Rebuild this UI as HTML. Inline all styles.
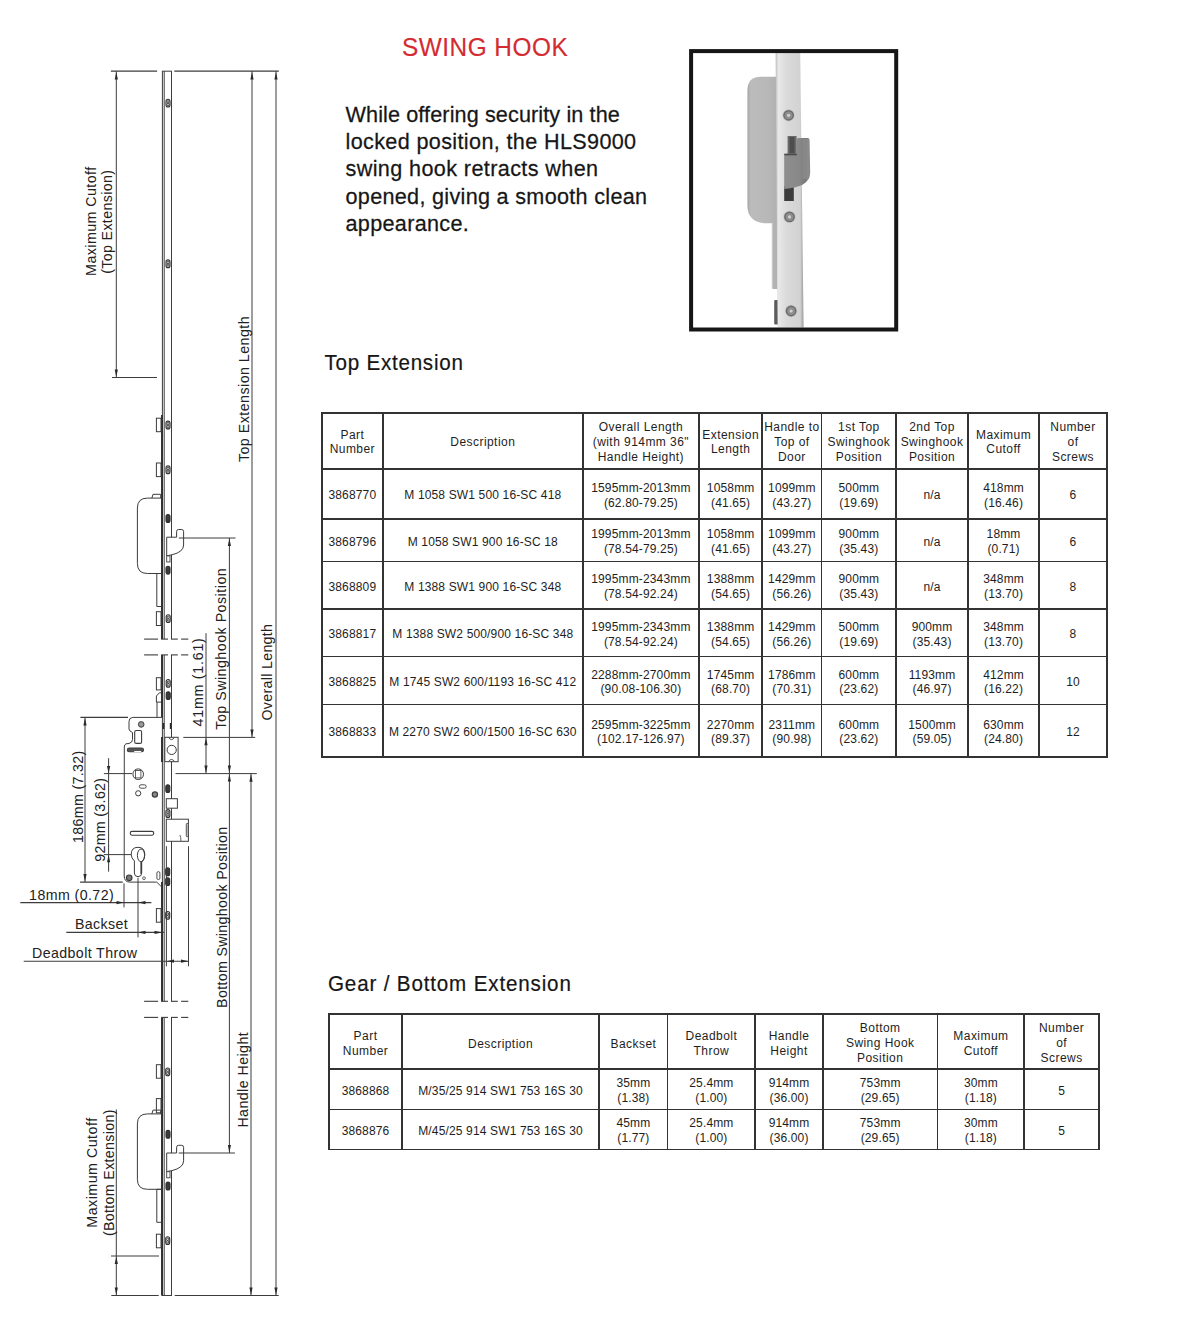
<!DOCTYPE html>
<html><head><meta charset="utf-8">
<style>
html,body{margin:0;padding:0;background:#fff;}
body{width:1182px;height:1322px;position:relative;overflow:hidden;font-family:"Liberation Sans", sans-serif;color:#1c1c1c;}
.abs{position:absolute;white-space:nowrap;}
.vl{position:absolute;width:1.8px;background:#333;}
.hl{position:absolute;height:1.8px;background:#333;}
.cell{position:absolute;display:flex;align-items:center;justify-content:center;text-align:center;font-size:12px;color:#1e1e1e;}
.cell span{display:block;white-space:nowrap;}
.th span{line-height:14.95px;letter-spacing:0.45px;position:relative;top:1.2px;}
.td span{line-height:14.7px;letter-spacing:0.15px;position:relative;top:1.7px;}
</style></head><body>
<div class="abs" id="title" style="left:402px;top:33px;transform:scaleY(1.076);transform-origin:0 23px;font-size:24.4px;line-height:30px;color:#d42b31;letter-spacing:0.49px;-webkit-text-stroke:0.15px #d42b31">SWING HOOK</div>
<div class="abs" id="para" style="left:345.5px;top:100.9px;font-size:21.6px;line-height:27.2px;color:#161616;-webkit-text-stroke:0.25px #161616"><div style="letter-spacing:0.12px;transform:scaleY(1.05);transform-origin:0 20.74px">While offering security in the</div><div style="letter-spacing:0.36px;transform:scaleY(1.05);transform-origin:0 20.74px">locked position, the HLS9000</div><div style="letter-spacing:0.39px;transform:scaleY(1.05);transform-origin:0 20.74px">swing hook retracts when</div><div style="letter-spacing:0.31px;transform:scaleY(1.05);transform-origin:0 20.74px">opened, giving a smooth clean</div><div style="letter-spacing:0.32px;transform:scaleY(1.05);transform-origin:0 20.74px">appearance.</div></div>
<div class="abs" id="h1" style="left:324.5px;top:350px;transform:scaleY(1.04);transform-origin:0 20.5px;font-size:20.6px;line-height:26px;color:#161616;letter-spacing:0.75px;-webkit-text-stroke:0.2px #161616">Top Extension</div>
<div class="abs" id="h2" style="left:328px;top:971px;transform:scaleY(1.04);transform-origin:0 20.5px;font-size:20.6px;line-height:26px;color:#161616;letter-spacing:0.84px;-webkit-text-stroke:0.2px #161616">Gear / Bottom Extension</div>
<svg style="position:absolute;left:0;top:0" width="1182" height="400" viewBox="0 0 1182 400">
<defs>
<linearGradient id="fp" x1="0" x2="1" y1="0" y2="0">
 <stop offset="0" stop-color="#bdbdbd"/><stop offset="0.1" stop-color="#e8e8e8"/><stop offset="0.4" stop-color="#dadada"/><stop offset="0.88" stop-color="#d2d2d2"/><stop offset="1" stop-color="#9a9a9a"/>
</linearGradient>
<linearGradient id="hs" x1="0" x2="1" y1="0" y2="0">
 <stop offset="0" stop-color="#a8a8a8"/><stop offset="0.12" stop-color="#bcbcbc"/><stop offset="0.7" stop-color="#b8b8b8"/><stop offset="1" stop-color="#b0b0b0"/>
</linearGradient>
<linearGradient id="hk" x1="0" x2="1" y1="0" y2="0">
 <stop offset="0" stop-color="#8e8e8e"/><stop offset="0.6" stop-color="#888"/><stop offset="0.8" stop-color="#7a7a7a"/><stop offset="1" stop-color="#8c8c8c"/>
</linearGradient>
<radialGradient id="sc" cx="0.5" cy="0.5" r="0.5">
 <stop offset="0" stop-color="#f2f2f2"/><stop offset="0.18" stop-color="#d0d0d0"/><stop offset="0.45" stop-color="#a8a8a8"/><stop offset="0.8" stop-color="#808080"/><stop offset="1" stop-color="#9a9a9a"/>
</radialGradient>
</defs>
<path d="M777,76.7 L760.4,76.7 Q747.4,76.7 747.4,91 L747.4,205.3 Q747.4,223.3 767.4,223.3 L777,223.3 Z" fill="url(#hs)"/>
<path d="M771.9,223 L777.5,223 L777.5,289 L773.5,289 Q771.9,289 771.9,287 Z" fill="#b2b2b2"/>
<rect x="771.9" y="223" width="1.2" height="65.4" fill="#c8c8c8"/>
<rect x="774.2" y="300" width="4.5" height="24.5" rx="1" fill="#5c5c5c"/>
<path d="M775.6,53 L800.2,53 L803.6,327.5 L777.6,327.5 Z" fill="url(#fp)"/>
<rect x="787.6" y="136" width="9" height="18" fill="#6a6a6a"/>
<rect x="789.5" y="137" width="5" height="16" fill="#4e4e4e"/>
<rect x="784.2" y="186" width="9.6" height="15" fill="#3c3c3c"/>
<path d="M796.5,139.5 Q796.7,138 798.5,138 L808,138 Q809.4,138 809.5,140 L810.2,172 Q810.4,180 803,184.5 Q797,187.5 784.2,189 L784.2,155.8 Q784.2,153.7 786.5,153.7 L796.5,153.7 Z" fill="url(#hk)"/>
<rect x="784.2" y="153.7" width="12.5" height="1.6" fill="#4a4a4a"/>
<rect x="802.6" y="139" width="6.6" height="40" fill="#8f8f8f" opacity="0.6"/>
<circle cx="788.6" cy="115.3" r="6.2" fill="#c8c8c8"/>
<circle cx="788.6" cy="115.3" r="5.4" fill="#6c6c6c"/>
<circle cx="788.6" cy="115.3" r="3.9" fill="#8e8e8e"/>
<circle cx="788.6" cy="115.3" r="1.6" fill="#d0d0d0"/>
<circle cx="789.5" cy="216.9" r="6.2" fill="#c8c8c8"/>
<circle cx="789.5" cy="216.9" r="5.4" fill="#6c6c6c"/>
<circle cx="789.5" cy="216.9" r="3.9" fill="#8e8e8e"/>
<circle cx="789.5" cy="216.9" r="1.6" fill="#d0d0d0"/>
<circle cx="791.1" cy="311" r="6.2" fill="#c8c8c8"/>
<circle cx="791.1" cy="311" r="5.4" fill="#6c6c6c"/>
<circle cx="791.1" cy="311" r="3.9" fill="#8e8e8e"/>
<circle cx="791.1" cy="311" r="1.6" fill="#d0d0d0"/>
<rect x="691.1" y="51.1" width="205.1" height="278.4" fill="none" stroke="#161616" stroke-width="4"/>
</svg>
<div class="vl" style="left:320.90px;top:412.00px;height:346.00px"></div>
<div class="vl" style="left:382.00px;top:412.00px;height:346.00px"></div>
<div class="vl" style="left:581.80px;top:412.00px;height:346.00px"></div>
<div class="vl" style="left:698.20px;top:412.00px;height:346.00px"></div>
<div class="vl" style="left:761.30px;top:412.00px;height:346.00px"></div>
<div class="vl" style="left:820.70px;top:412.00px;height:346.00px"></div>
<div class="vl" style="left:895.30px;top:412.00px;height:346.00px"></div>
<div class="vl" style="left:967.00px;top:412.00px;height:346.00px"></div>
<div class="vl" style="left:1038.30px;top:412.00px;height:346.00px"></div>
<div class="vl" style="left:1105.90px;top:412.00px;height:346.00px"></div>
<div class="hl" style="left:320.90px;top:412.00px;width:786.80px"></div>
<div class="hl" style="left:320.90px;top:467.90px;width:786.80px"></div>
<div class="hl" style="left:320.90px;top:518.30px;width:786.80px"></div>
<div class="hl" style="left:320.90px;top:560.50px;width:786.80px"></div>
<div class="hl" style="left:320.90px;top:608.20px;width:786.80px"></div>
<div class="hl" style="left:320.90px;top:655.70px;width:786.80px"></div>
<div class="hl" style="left:320.90px;top:703.60px;width:786.80px"></div>
<div class="hl" style="left:320.90px;top:756.20px;width:786.80px"></div>
<div class="cell th" style="left:321.80px;top:412.90px;width:61.10px;height:55.90px"><span style="line-height:14.2px">Part<br>Number</span></div>
<div class="cell th" style="left:382.90px;top:412.90px;width:199.80px;height:55.90px"><span style="line-height:14.2px">Description</span></div>
<div class="cell th" style="left:582.70px;top:412.90px;width:116.40px;height:55.90px"><span style="line-height:14.95px">Overall Length<br>(with 914mm 36"<br>Handle Height)</span></div>
<div class="cell th" style="left:699.10px;top:412.90px;width:63.10px;height:55.90px"><span style="line-height:14.2px">Extension<br>Length</span></div>
<div class="cell th" style="left:762.20px;top:412.90px;width:59.40px;height:55.90px"><span style="line-height:14.95px">Handle to<br>Top of<br>Door</span></div>
<div class="cell th" style="left:821.60px;top:412.90px;width:74.60px;height:55.90px"><span style="line-height:14.95px">1st Top<br>Swinghook<br>Position</span></div>
<div class="cell th" style="left:896.20px;top:412.90px;width:71.70px;height:55.90px"><span style="line-height:14.95px">2nd Top<br>Swinghook<br>Position</span></div>
<div class="cell th" style="left:967.90px;top:412.90px;width:71.30px;height:55.90px"><span style="line-height:14.2px">Maximum<br>Cutoff</span></div>
<div class="cell th" style="left:1039.20px;top:412.90px;width:67.60px;height:55.90px"><span style="line-height:14.95px">Number<br>of<br>Screws</span></div>
<div class="cell td" style="left:321.80px;top:468.80px;width:61.10px;height:50.40px"><span style="line-height:14.7px">3868770</span></div>
<div class="cell td" style="left:382.90px;top:468.80px;width:199.80px;height:50.40px"><span style="line-height:14.7px">M 1058 SW1 500 16-SC 418</span></div>
<div class="cell td" style="left:582.70px;top:468.80px;width:116.40px;height:50.40px"><span style="line-height:14.7px">1595mm-2013mm<br>(62.80-79.25)</span></div>
<div class="cell td" style="left:699.10px;top:468.80px;width:63.10px;height:50.40px"><span style="line-height:14.7px">1058mm<br>(41.65)</span></div>
<div class="cell td" style="left:762.20px;top:468.80px;width:59.40px;height:50.40px"><span style="line-height:14.7px">1099mm<br>(43.27)</span></div>
<div class="cell td" style="left:821.60px;top:468.80px;width:74.60px;height:50.40px"><span style="line-height:14.7px">500mm<br>(19.69)</span></div>
<div class="cell td" style="left:896.20px;top:468.80px;width:71.70px;height:50.40px"><span style="line-height:14.7px">n/a</span></div>
<div class="cell td" style="left:967.90px;top:468.80px;width:71.30px;height:50.40px"><span style="line-height:14.7px">418mm<br>(16.46)</span></div>
<div class="cell td" style="left:1039.20px;top:468.80px;width:67.60px;height:50.40px"><span style="line-height:14.7px">6</span></div>
<div class="cell td" style="left:321.80px;top:519.20px;width:61.10px;height:42.20px"><span style="line-height:14.7px">3868796</span></div>
<div class="cell td" style="left:382.90px;top:519.20px;width:199.80px;height:42.20px"><span style="line-height:14.7px">M 1058 SW1 900 16-SC 18</span></div>
<div class="cell td" style="left:582.70px;top:519.20px;width:116.40px;height:42.20px"><span style="line-height:14.7px">1995mm-2013mm<br>(78.54-79.25)</span></div>
<div class="cell td" style="left:699.10px;top:519.20px;width:63.10px;height:42.20px"><span style="line-height:14.7px">1058mm<br>(41.65)</span></div>
<div class="cell td" style="left:762.20px;top:519.20px;width:59.40px;height:42.20px"><span style="line-height:14.7px">1099mm<br>(43.27)</span></div>
<div class="cell td" style="left:821.60px;top:519.20px;width:74.60px;height:42.20px"><span style="line-height:14.7px">900mm<br>(35.43)</span></div>
<div class="cell td" style="left:896.20px;top:519.20px;width:71.70px;height:42.20px"><span style="line-height:14.7px">n/a</span></div>
<div class="cell td" style="left:967.90px;top:519.20px;width:71.30px;height:42.20px"><span style="line-height:14.7px">18mm<br>(0.71)</span></div>
<div class="cell td" style="left:1039.20px;top:519.20px;width:67.60px;height:42.20px"><span style="line-height:14.7px">6</span></div>
<div class="cell td" style="left:321.80px;top:561.40px;width:61.10px;height:47.70px"><span style="line-height:14.7px">3868809</span></div>
<div class="cell td" style="left:382.90px;top:561.40px;width:199.80px;height:47.70px"><span style="line-height:14.7px">M 1388 SW1 900 16-SC 348</span></div>
<div class="cell td" style="left:582.70px;top:561.40px;width:116.40px;height:47.70px"><span style="line-height:14.7px">1995mm-2343mm<br>(78.54-92.24)</span></div>
<div class="cell td" style="left:699.10px;top:561.40px;width:63.10px;height:47.70px"><span style="line-height:14.7px">1388mm<br>(54.65)</span></div>
<div class="cell td" style="left:762.20px;top:561.40px;width:59.40px;height:47.70px"><span style="line-height:14.7px">1429mm<br>(56.26)</span></div>
<div class="cell td" style="left:821.60px;top:561.40px;width:74.60px;height:47.70px"><span style="line-height:14.7px">900mm<br>(35.43)</span></div>
<div class="cell td" style="left:896.20px;top:561.40px;width:71.70px;height:47.70px"><span style="line-height:14.7px">n/a</span></div>
<div class="cell td" style="left:967.90px;top:561.40px;width:71.30px;height:47.70px"><span style="line-height:14.7px">348mm<br>(13.70)</span></div>
<div class="cell td" style="left:1039.20px;top:561.40px;width:67.60px;height:47.70px"><span style="line-height:14.7px">8</span></div>
<div class="cell td" style="left:321.80px;top:609.10px;width:61.10px;height:47.50px"><span style="line-height:14.7px">3868817</span></div>
<div class="cell td" style="left:382.90px;top:609.10px;width:199.80px;height:47.50px"><span style="line-height:14.7px">M 1388 SW2 500/900 16-SC 348</span></div>
<div class="cell td" style="left:582.70px;top:609.10px;width:116.40px;height:47.50px"><span style="line-height:14.7px">1995mm-2343mm<br>(78.54-92.24)</span></div>
<div class="cell td" style="left:699.10px;top:609.10px;width:63.10px;height:47.50px"><span style="line-height:14.7px">1388mm<br>(54.65)</span></div>
<div class="cell td" style="left:762.20px;top:609.10px;width:59.40px;height:47.50px"><span style="line-height:14.7px">1429mm<br>(56.26)</span></div>
<div class="cell td" style="left:821.60px;top:609.10px;width:74.60px;height:47.50px"><span style="line-height:14.7px">500mm<br>(19.69)</span></div>
<div class="cell td" style="left:896.20px;top:609.10px;width:71.70px;height:47.50px"><span style="line-height:14.7px">900mm<br>(35.43)</span></div>
<div class="cell td" style="left:967.90px;top:609.10px;width:71.30px;height:47.50px"><span style="line-height:14.7px">348mm<br>(13.70)</span></div>
<div class="cell td" style="left:1039.20px;top:609.10px;width:67.60px;height:47.50px"><span style="line-height:14.7px">8</span></div>
<div class="cell td" style="left:321.80px;top:656.60px;width:61.10px;height:47.90px"><span style="line-height:14.7px">3868825</span></div>
<div class="cell td" style="left:382.90px;top:656.60px;width:199.80px;height:47.90px"><span style="line-height:14.7px">M 1745 SW2 600/1193 16-SC 412</span></div>
<div class="cell td" style="left:582.70px;top:656.60px;width:116.40px;height:47.90px"><span style="line-height:14.7px">2288mm-2700mm<br>(90.08-106.30)</span></div>
<div class="cell td" style="left:699.10px;top:656.60px;width:63.10px;height:47.90px"><span style="line-height:14.7px">1745mm<br>(68.70)</span></div>
<div class="cell td" style="left:762.20px;top:656.60px;width:59.40px;height:47.90px"><span style="line-height:14.7px">1786mm<br>(70.31)</span></div>
<div class="cell td" style="left:821.60px;top:656.60px;width:74.60px;height:47.90px"><span style="line-height:14.7px">600mm<br>(23.62)</span></div>
<div class="cell td" style="left:896.20px;top:656.60px;width:71.70px;height:47.90px"><span style="line-height:14.7px">1193mm<br>(46.97)</span></div>
<div class="cell td" style="left:967.90px;top:656.60px;width:71.30px;height:47.90px"><span style="line-height:14.7px">412mm<br>(16.22)</span></div>
<div class="cell td" style="left:1039.20px;top:656.60px;width:67.60px;height:47.90px"><span style="line-height:14.7px">10</span></div>
<div class="cell td" style="left:321.80px;top:704.50px;width:61.10px;height:52.60px"><span style="line-height:14.7px">3868833</span></div>
<div class="cell td" style="left:382.90px;top:704.50px;width:199.80px;height:52.60px"><span style="line-height:14.7px">M 2270 SW2 600/1500 16-SC 630</span></div>
<div class="cell td" style="left:582.70px;top:704.50px;width:116.40px;height:52.60px"><span style="line-height:14.7px">2595mm-3225mm<br>(102.17-126.97)</span></div>
<div class="cell td" style="left:699.10px;top:704.50px;width:63.10px;height:52.60px"><span style="line-height:14.7px">2270mm<br>(89.37)</span></div>
<div class="cell td" style="left:762.20px;top:704.50px;width:59.40px;height:52.60px"><span style="line-height:14.7px">2311mm<br>(90.98)</span></div>
<div class="cell td" style="left:821.60px;top:704.50px;width:74.60px;height:52.60px"><span style="line-height:14.7px">600mm<br>(23.62)</span></div>
<div class="cell td" style="left:896.20px;top:704.50px;width:71.70px;height:52.60px"><span style="line-height:14.7px">1500mm<br>(59.05)</span></div>
<div class="cell td" style="left:967.90px;top:704.50px;width:71.30px;height:52.60px"><span style="line-height:14.7px">630mm<br>(24.80)</span></div>
<div class="cell td" style="left:1039.20px;top:704.50px;width:67.60px;height:52.60px"><span style="line-height:14.7px">12</span></div>
<div class="vl" style="left:328.30px;top:1013.20px;height:137.20px"></div>
<div class="vl" style="left:401.00px;top:1013.20px;height:137.20px"></div>
<div class="vl" style="left:598.30px;top:1013.20px;height:137.20px"></div>
<div class="vl" style="left:666.70px;top:1013.20px;height:137.20px"></div>
<div class="vl" style="left:754.30px;top:1013.20px;height:137.20px"></div>
<div class="vl" style="left:822.00px;top:1013.20px;height:137.20px"></div>
<div class="vl" style="left:936.60px;top:1013.20px;height:137.20px"></div>
<div class="vl" style="left:1023.40px;top:1013.20px;height:137.20px"></div>
<div class="vl" style="left:1098.00px;top:1013.20px;height:137.20px"></div>
<div class="hl" style="left:328.30px;top:1013.20px;width:771.50px"></div>
<div class="hl" style="left:328.30px;top:1068.40px;width:771.50px"></div>
<div class="hl" style="left:328.30px;top:1108.70px;width:771.50px"></div>
<div class="hl" style="left:328.30px;top:1148.60px;width:771.50px"></div>
<div class="cell th" style="left:329.20px;top:1014.10px;width:72.70px;height:55.20px"><span style="line-height:14.5px;margin-top:2.0px">Part<br>Number</span></div>
<div class="cell th" style="left:401.90px;top:1014.10px;width:197.30px;height:55.20px"><span style="line-height:14.5px;margin-top:2.0px">Description</span></div>
<div class="cell th" style="left:599.20px;top:1014.10px;width:68.40px;height:55.20px"><span style="line-height:14.5px;margin-top:2.0px">Backset</span></div>
<div class="cell th" style="left:667.60px;top:1014.10px;width:87.60px;height:55.20px"><span style="line-height:14.5px;margin-top:2.0px">Deadbolt<br>Throw</span></div>
<div class="cell th" style="left:755.20px;top:1014.10px;width:67.70px;height:55.20px"><span style="line-height:14.5px;margin-top:2.0px">Handle<br>Height</span></div>
<div class="cell th" style="left:822.90px;top:1014.10px;width:114.60px;height:55.20px"><span style="line-height:15.2px;margin-top:2.0px">Bottom<br>Swing Hook<br>Position</span></div>
<div class="cell th" style="left:937.50px;top:1014.10px;width:86.80px;height:55.20px"><span style="line-height:14.5px;margin-top:2.0px">Maximum<br>Cutoff</span></div>
<div class="cell th" style="left:1024.30px;top:1014.10px;width:74.60px;height:55.20px"><span style="line-height:15.2px;margin-top:2.0px">Number<br>of<br>Screws</span></div>
<div class="cell td" style="left:329.20px;top:1069.30px;width:72.70px;height:40.30px"><span style="line-height:14.9px">3868868</span></div>
<div class="cell td" style="left:401.90px;top:1069.30px;width:197.30px;height:40.30px"><span style="line-height:14.9px">M/35/25 914 SW1 753 16S 30</span></div>
<div class="cell td" style="left:599.20px;top:1069.30px;width:68.40px;height:40.30px"><span style="line-height:14.9px">35mm<br>(1.38)</span></div>
<div class="cell td" style="left:667.60px;top:1069.30px;width:87.60px;height:40.30px"><span style="line-height:14.9px">25.4mm<br>(1.00)</span></div>
<div class="cell td" style="left:755.20px;top:1069.30px;width:67.70px;height:40.30px"><span style="line-height:14.9px">914mm<br>(36.00)</span></div>
<div class="cell td" style="left:822.90px;top:1069.30px;width:114.60px;height:40.30px"><span style="line-height:14.9px">753mm<br>(29.65)</span></div>
<div class="cell td" style="left:937.50px;top:1069.30px;width:86.80px;height:40.30px"><span style="line-height:14.9px">30mm<br>(1.18)</span></div>
<div class="cell td" style="left:1024.30px;top:1069.30px;width:74.60px;height:40.30px"><span style="line-height:14.9px">5</span></div>
<div class="cell td" style="left:329.20px;top:1109.60px;width:72.70px;height:39.90px"><span style="line-height:14.9px">3868876</span></div>
<div class="cell td" style="left:401.90px;top:1109.60px;width:197.30px;height:39.90px"><span style="line-height:14.9px">M/45/25 914 SW1 753 16S 30</span></div>
<div class="cell td" style="left:599.20px;top:1109.60px;width:68.40px;height:39.90px"><span style="line-height:14.9px">45mm<br>(1.77)</span></div>
<div class="cell td" style="left:667.60px;top:1109.60px;width:87.60px;height:39.90px"><span style="line-height:14.9px">25.4mm<br>(1.00)</span></div>
<div class="cell td" style="left:755.20px;top:1109.60px;width:67.70px;height:39.90px"><span style="line-height:14.9px">914mm<br>(36.00)</span></div>
<div class="cell td" style="left:822.90px;top:1109.60px;width:114.60px;height:39.90px"><span style="line-height:14.9px">753mm<br>(29.65)</span></div>
<div class="cell td" style="left:937.50px;top:1109.60px;width:86.80px;height:39.90px"><span style="line-height:14.9px">30mm<br>(1.18)</span></div>
<div class="cell td" style="left:1024.30px;top:1109.60px;width:74.60px;height:39.90px"><span style="line-height:14.9px">5</span></div>
<svg style="position:absolute;left:0;top:0;font-family:'Liberation Sans',sans-serif" width="300" height="1322" viewBox="0 0 300 1322"><line x1="162.4" y1="71.2" x2="162.4" y2="639.1" stroke="#3c3c3c" stroke-width="1.0"/>
<line x1="164.2" y1="71.2" x2="164.2" y2="639.1" stroke="#3c3c3c" stroke-width="1.0"/>
<line x1="171.5" y1="71.2" x2="171.5" y2="639.1" stroke="#3c3c3c" stroke-width="1.0"/>
<line x1="161.9" y1="71.2" x2="172.0" y2="71.2" stroke="#3c3c3c" stroke-width="1.0"/>
<line x1="162.4" y1="654.9" x2="162.4" y2="1001.3" stroke="#3c3c3c" stroke-width="1.0"/>
<line x1="164.2" y1="654.9" x2="164.2" y2="1001.3" stroke="#3c3c3c" stroke-width="1.0"/>
<line x1="171.5" y1="654.9" x2="171.5" y2="1001.3" stroke="#3c3c3c" stroke-width="1.0"/>
<line x1="162.4" y1="1017.4" x2="162.4" y2="1295.5" stroke="#3c3c3c" stroke-width="1.0"/>
<line x1="164.2" y1="1017.4" x2="164.2" y2="1295.5" stroke="#3c3c3c" stroke-width="1.0"/>
<line x1="171.5" y1="1017.4" x2="171.5" y2="1295.5" stroke="#3c3c3c" stroke-width="1.0"/>
<line x1="161.9" y1="1295.5" x2="172.0" y2="1295.5" stroke="#3c3c3c" stroke-width="1.0"/>
<line x1="161.9" y1="415" x2="161.9" y2="639.1" stroke="#222" stroke-width="1.6"/>
<line x1="161.9" y1="654.9" x2="161.9" y2="717.4" stroke="#222" stroke-width="1.6"/>
<line x1="161.9" y1="737" x2="161.9" y2="762" stroke="#222" stroke-width="1.6"/>
<line x1="161.9" y1="882" x2="161.9" y2="1001.3" stroke="#222" stroke-width="1.6"/>
<line x1="161.9" y1="1017.4" x2="161.9" y2="1295.5" stroke="#222" stroke-width="1.6"/>
<line x1="144.1" y1="639.1" x2="158.1" y2="639.1" stroke="#3c3c3c" stroke-width="1.1"/>
<line x1="161.1" y1="639.1" x2="168" y2="639.1" stroke="#3c3c3c" stroke-width="1.1"/>
<line x1="171" y1="639.1" x2="177.8" y2="639.1" stroke="#3c3c3c" stroke-width="1.1"/>
<line x1="181.1" y1="639.1" x2="188.3" y2="639.1" stroke="#3c3c3c" stroke-width="1.1"/>
<line x1="144.1" y1="654.9" x2="158.1" y2="654.9" stroke="#3c3c3c" stroke-width="1.1"/>
<line x1="161.1" y1="654.9" x2="168" y2="654.9" stroke="#3c3c3c" stroke-width="1.1"/>
<line x1="171" y1="654.9" x2="177.8" y2="654.9" stroke="#3c3c3c" stroke-width="1.1"/>
<line x1="181.1" y1="654.9" x2="188.3" y2="654.9" stroke="#3c3c3c" stroke-width="1.1"/>
<line x1="144.1" y1="1001.3" x2="158.1" y2="1001.3" stroke="#3c3c3c" stroke-width="1.1"/>
<line x1="161.1" y1="1001.3" x2="168" y2="1001.3" stroke="#3c3c3c" stroke-width="1.1"/>
<line x1="171" y1="1001.3" x2="177.8" y2="1001.3" stroke="#3c3c3c" stroke-width="1.1"/>
<line x1="181.1" y1="1001.3" x2="188.3" y2="1001.3" stroke="#3c3c3c" stroke-width="1.1"/>
<line x1="144.1" y1="1017.4" x2="158.1" y2="1017.4" stroke="#3c3c3c" stroke-width="1.1"/>
<line x1="161.1" y1="1017.4" x2="168" y2="1017.4" stroke="#3c3c3c" stroke-width="1.1"/>
<line x1="171" y1="1017.4" x2="177.8" y2="1017.4" stroke="#3c3c3c" stroke-width="1.1"/>
<line x1="181.1" y1="1017.4" x2="188.3" y2="1017.4" stroke="#3c3c3c" stroke-width="1.1"/>
<rect x="166.0" y="99.19999999999999" width="4.0" height="7.8" rx="2.0" stroke="#2e2e2e" stroke-width="1.1" fill="#fff"/>
<ellipse cx="168" cy="101.8" rx="1.0" ry="1.3" stroke="#333" stroke-width="0.9" fill="none"/>
<ellipse cx="168" cy="104.39999999999999" rx="1.0" ry="1.3" stroke="#333" stroke-width="0.9" fill="none"/>
<rect x="166.0" y="259.90000000000003" width="4.0" height="7.8" rx="2.0" stroke="#2e2e2e" stroke-width="1.1" fill="#fff"/>
<ellipse cx="168" cy="262.5" rx="1.0" ry="1.3" stroke="#333" stroke-width="0.9" fill="none"/>
<ellipse cx="168" cy="265.1" rx="1.0" ry="1.3" stroke="#333" stroke-width="0.9" fill="none"/>
<rect x="156.4" y="418.2" width="4.6" height="13.5" rx="0" stroke="#3c3c3c" stroke-width="1.0" fill="#fff"/>
<rect x="166.0" y="421.1" width="4.0" height="7.8" rx="2.0" stroke="#2e2e2e" stroke-width="1.1" fill="#fff"/>
<ellipse cx="168" cy="423.7" rx="1.0" ry="1.3" stroke="#333" stroke-width="0.9" fill="none"/>
<ellipse cx="168" cy="426.3" rx="1.0" ry="1.3" stroke="#333" stroke-width="0.9" fill="none"/>
<rect x="156.4" y="463" width="4.6" height="13.600000000000023" rx="0" stroke="#3c3c3c" stroke-width="1.0" fill="#fff"/>
<rect x="166.0" y="465.90000000000003" width="4.0" height="7.8" rx="2.0" stroke="#2e2e2e" stroke-width="1.1" fill="#fff"/>
<ellipse cx="168" cy="468.5" rx="1.0" ry="1.3" stroke="#333" stroke-width="0.9" fill="none"/>
<ellipse cx="168" cy="471.1" rx="1.0" ry="1.3" stroke="#333" stroke-width="0.9" fill="none"/>
<path d="M161.8,498.1 L147.4,498.1 Q137.4,498.1 137.4,508.1 L137.4,563.5 Q137.4,573.5 147.4,573.5 L161.8,573.5" stroke="#3c3c3c" stroke-width="1.0" fill="none"/>
<path d="M151.9,498.1 L153,494.3 L160.7,494.3 L160.7,498.1" stroke="#3c3c3c" stroke-width="1.0" fill="none"/>
<path d="M161.8,573.5 L156.8,573.5 L156.8,606.5 L161.8,606.5" stroke="#3c3c3c" stroke-width="1.0" fill="none"/>
<rect x="166.0" y="514.6" width="4.0" height="7.8" rx="2.0" stroke="#2e2e2e" stroke-width="1.1" fill="#3a3a3a"/>
<rect x="166.0" y="566.3000000000001" width="4.0" height="7.8" rx="2.0" stroke="#2e2e2e" stroke-width="1.1" fill="#3a3a3a"/>
<path d="M166.7,537.2 L176.6,537.2 L176.6,531.5 Q176.6,529.5 178.6,529.5 L181.6,529.5 Q183.6,529.5 183.6,531.5 L183.6,545 Q183.6,552 172,554.8 L166.7,555.8 Z" stroke="#3c3c3c" stroke-width="1.0" fill="#fff"/>
<rect x="166.7" y="555.9" width="3.3" height="6.1" rx="0" stroke="#3c3c3c" stroke-width="0.9" fill="#fff"/>
<rect x="156.4" y="611.7" width="4.6" height="13.799999999999955" rx="0" stroke="#3c3c3c" stroke-width="1.0" fill="#fff"/>
<rect x="166.2" y="614.7" width="4.0" height="7.8" rx="2.0" stroke="#2e2e2e" stroke-width="1.1" fill="#fff"/>
<ellipse cx="168.2" cy="617.3000000000001" rx="1.0" ry="1.3" stroke="#333" stroke-width="0.9" fill="none"/>
<ellipse cx="168.2" cy="619.9" rx="1.0" ry="1.3" stroke="#333" stroke-width="0.9" fill="none"/>
<rect x="156.4" y="677.7" width="4.6" height="12.199999999999932" rx="0" stroke="#3c3c3c" stroke-width="1.0" fill="#fff"/>
<rect x="166.2" y="679.5" width="4.0" height="7.8" rx="2.0" stroke="#2e2e2e" stroke-width="1.1" fill="#fff"/>
<ellipse cx="168.2" cy="682.1" rx="1.0" ry="1.3" stroke="#333" stroke-width="0.9" fill="none"/>
<ellipse cx="168.2" cy="684.6999999999999" rx="1.0" ry="1.3" stroke="#333" stroke-width="0.9" fill="none"/>
<rect x="166.2" y="691.7" width="4.0" height="7.8" rx="2.0" stroke="#2e2e2e" stroke-width="1.1" fill="#3a3a3a"/>
<path d="M161,692.8 L159.4,692.8 L156.4,696 L156.4,702.1 L161,702.1" stroke="#3c3c3c" stroke-width="1.0" fill="none"/>
<line x1="163.4" y1="723" x2="163.4" y2="729" stroke="#2a2a2a" stroke-width="1.8"/>
<line x1="170.6" y1="723" x2="170.6" y2="729" stroke="#2a2a2a" stroke-width="1.6"/>
<path d="M157,702.1 L157,717.4" stroke="#3c3c3c" stroke-width="1.0" fill="none"/>
<path d="M161.8,717.4 L132.8,717.4 Q129,717.6 129,721.5 L129,729 Q129,731 132.5,732.5 L132.5,739.5 Q132.5,742.5 129,743.5 L126,743.8 Q124.3,744.5 124.3,747 L124.2,876 Q124.2,882.1 130,882.1 L156.7,882.1 L160.9,886.2" stroke="#3c3c3c" stroke-width="1.0" fill="none"/>
<circle cx="141.2" cy="724.4" r="2.8" stroke="#3c3c3c" stroke-width="1.0" fill="#999"/>
<rect x="134.7" y="730.5" width="6.9" height="12.9" rx="1.5" stroke="#3c3c3c" stroke-width="1.1" fill="#fff"/>
<rect x="127.4" y="748" width="16.1" height="3.8" rx="1.9" stroke="#3c3c3c" stroke-width="1.1" fill="#555"/>
<rect x="134.2" y="751" width="7" height="1" rx="0" stroke="#3c3c3c" stroke-width="0" fill="#fff"/>
<circle cx="138.2" cy="774.2" r="5.3" stroke="#3c3c3c" stroke-width="1.0" fill="none"/>
<rect x="135.5" y="770.5" width="5.4" height="7.4" rx="0" stroke="#3c3c3c" stroke-width="0.8" fill="none"/>
<rect x="139.3" y="784.8" width="6.9" height="3.4" rx="1.7" stroke="#3c3c3c" stroke-width="0.9" fill="#fff"/>
<circle cx="138.2" cy="793.3" r="2.6" stroke="#3c3c3c" stroke-width="1.0" fill="none"/>
<circle cx="154.9" cy="794.5" r="2.6" stroke="#3c3c3c" stroke-width="1.2" fill="#888"/>
<rect x="130.2" y="831.4" width="23.6" height="3.8" rx="1.9" stroke="#3c3c3c" stroke-width="1.1" fill="#fff"/>
<path d="M134.4,869 L134.4,861 Q131.2,858 131.2,854.5 Q131.2,847.3 138,847.3 Q144.8,847.3 144.8,854.5 Q144.8,859 141.7,862 L141.7,873 Q141.7,876.7 138,876.7 Q134.4,876.7 134.4,873 Z" stroke="#3c3c3c" stroke-width="1.0" fill="none"/>
<ellipse cx="141" cy="855.4" rx="3.6" ry="6.4" stroke="#3c3c3c" stroke-width="1.0" fill="none"/>
<line x1="141.2" y1="862" x2="141.2" y2="874" stroke="#3c3c3c" stroke-width="1.6"/>
<circle cx="129.2" cy="877.8" r="2.8" stroke="#3c3c3c" stroke-width="1.2" fill="#777"/>
<circle cx="144" cy="878.2" r="1.4" stroke="#3c3c3c" stroke-width="0.8" fill="none"/>
<rect x="156.9" y="871.6" width="3" height="8" rx="1.5" stroke="#3c3c3c" stroke-width="0.9" fill="#fff"/>
<rect x="165.7" y="867.9" width="4.0" height="7.8" rx="2.0" stroke="#2e2e2e" stroke-width="1.1" fill="#3a3a3a"/>
<rect x="165.7" y="877.7" width="4.0" height="7.8" rx="2.0" stroke="#2e2e2e" stroke-width="1.1" fill="#3a3a3a"/>
<rect x="156.4" y="908.6" width="4.6" height="13.600000000000023" rx="0" stroke="#3c3c3c" stroke-width="1.0" fill="#fff"/>
<rect x="165.7" y="911.5" width="4.0" height="7.8" rx="2.0" stroke="#2e2e2e" stroke-width="1.1" fill="#fff"/>
<ellipse cx="167.7" cy="914.1" rx="1.0" ry="1.3" stroke="#333" stroke-width="0.9" fill="none"/>
<ellipse cx="167.7" cy="916.6999999999999" rx="1.0" ry="1.3" stroke="#333" stroke-width="0.9" fill="none"/>
<rect x="164.8" y="737.3" width="13.3" height="24.4" rx="0" stroke="#3c3c3c" stroke-width="1.0" fill="#fff"/>
<circle cx="171.7" cy="749.9" r="4.6" stroke="#3c3c3c" stroke-width="1.0" fill="none"/>
<path d="M168.5,737.6 Q171.5,741.5 174.5,737.6" stroke="#3c3c3c" stroke-width="0.9" fill="none"/>
<path d="M168.5,761.4 Q171.5,757.5 174.5,761.4" stroke="#3c3c3c" stroke-width="0.9" fill="none"/>
<rect x="166.3" y="798.7" width="11.1" height="9.5" rx="0" stroke="#3c3c3c" stroke-width="1.0" fill="#fff"/>
<rect x="166.3" y="819.2" width="22.1" height="22.1" rx="0" stroke="#3c3c3c" stroke-width="1.0" fill="#fff"/>
<rect x="186.3" y="823.4" width="1.8" height="13.3" rx="0.9" stroke="#3c3c3c" stroke-width="0.9" fill="#fff"/>
<path d="M179.8,835 Q181,836.5 180.9,841" stroke="#3c3c3c" stroke-width="0.8" fill="none"/>
<rect x="165.8" y="784.7" width="4.0" height="7.8" rx="2.0" stroke="#2e2e2e" stroke-width="1.1" fill="#3a3a3a"/>
<rect x="165.9" y="809.6" width="4.0" height="7.8" rx="2.0" stroke="#2e2e2e" stroke-width="1.1" fill="#fff"/>
<ellipse cx="167.9" cy="812.2" rx="1.0" ry="1.3" stroke="#333" stroke-width="0.9" fill="none"/>
<ellipse cx="167.9" cy="814.8" rx="1.0" ry="1.3" stroke="#333" stroke-width="0.9" fill="none"/>
<rect x="156.4" y="1064.7" width="4.6" height="13.5" rx="0" stroke="#3c3c3c" stroke-width="1.0" fill="#fff"/>
<rect x="165.7" y="1068.0" width="4.0" height="7.8" rx="2.0" stroke="#2e2e2e" stroke-width="1.1" fill="#fff"/>
<ellipse cx="167.7" cy="1070.6000000000001" rx="1.0" ry="1.3" stroke="#333" stroke-width="0.9" fill="none"/>
<ellipse cx="167.7" cy="1073.2" rx="1.0" ry="1.3" stroke="#333" stroke-width="0.9" fill="none"/>
<rect x="156.4" y="1098.6" width="4.6" height="14.200000000000045" rx="0" stroke="#3c3c3c" stroke-width="1.0" fill="#fff"/>
<path d="M161.8,1113.9 L147.4,1113.9 Q137.4,1113.9 137.4,1123.9 L137.4,1179.3 Q137.4,1189.3 147.4,1189.3 L161.8,1189.3" stroke="#3c3c3c" stroke-width="1.0" fill="none"/>
<path d="M151.9,1113.9 L153,1110.1 L160.7,1110.1 L160.7,1113.9" stroke="#3c3c3c" stroke-width="1.0" fill="none"/>
<path d="M161.8,1189.3 L156.8,1189.3 L156.8,1222.3 L161.8,1222.3" stroke="#3c3c3c" stroke-width="1.0" fill="none"/>
<rect x="166.0" y="1130.3999999999999" width="4.0" height="7.8" rx="2.0" stroke="#2e2e2e" stroke-width="1.1" fill="#3a3a3a"/>
<rect x="166.0" y="1182.1" width="4.0" height="7.8" rx="2.0" stroke="#2e2e2e" stroke-width="1.1" fill="#3a3a3a"/>
<path d="M166.7,1153.0 L176.6,1153.0 L176.6,1147.3 Q176.6,1145.3 178.6,1145.3 L181.6,1145.3 Q183.6,1145.3 183.6,1147.3 L183.6,1160.8 Q183.6,1167.8 172,1170.6 L166.7,1171.6 Z" stroke="#3c3c3c" stroke-width="1.0" fill="#fff"/>
<rect x="166.7" y="1171.6999999999998" width="3.3" height="6.1" rx="0" stroke="#3c3c3c" stroke-width="0.9" fill="#fff"/>
<rect x="156.4" y="1234.2" width="4.6" height="13.599999999999909" rx="0" stroke="#3c3c3c" stroke-width="1.0" fill="#fff"/>
<rect x="165.7" y="1236.6999999999998" width="4.0" height="7.8" rx="2.0" stroke="#2e2e2e" stroke-width="1.1" fill="#fff"/>
<ellipse cx="167.7" cy="1239.3" rx="1.0" ry="1.3" stroke="#333" stroke-width="0.9" fill="none"/>
<ellipse cx="167.7" cy="1241.8999999999999" rx="1.0" ry="1.3" stroke="#333" stroke-width="0.9" fill="none"/>
<line x1="110.9" y1="71.2" x2="157.1" y2="71.2" stroke="#3c3c3c" stroke-width="1.2"/>
<line x1="174.3" y1="71.2" x2="278.8" y2="71.2" stroke="#3c3c3c" stroke-width="1.2"/>
<line x1="116.3" y1="71.2" x2="116.3" y2="377.5" stroke="#3c3c3c" stroke-width="1.0"/>
<polygon points="116.3,72 114.7,79.5 117.89999999999999,79.5" fill="#2a2a2a"/>
<polygon points="116.3,377 114.7,369.5 117.89999999999999,369.5" fill="#2a2a2a"/>
<line x1="112" y1="377.5" x2="157" y2="377.5" stroke="#3c3c3c" stroke-width="1.2"/>
<line x1="252" y1="71.2" x2="252" y2="737.4" stroke="#3c3c3c" stroke-width="1.0"/>
<polygon points="252,72 250.4,79.5 253.6,79.5" fill="#2a2a2a"/>
<polygon points="252,737 250.4,729.5 253.6,729.5" fill="#2a2a2a"/>
<line x1="276" y1="71.2" x2="276" y2="1295.5" stroke="#3c3c3c" stroke-width="1.0"/>
<polygon points="276,72 274.4,79.5 277.6,79.5" fill="#2a2a2a"/>
<polygon points="276,1295 274.4,1287.5 277.6,1287.5" fill="#2a2a2a"/>
<line x1="183.3" y1="737.4" x2="255.2" y2="737.4" stroke="#3c3c3c" stroke-width="1.0"/>
<line x1="178.8" y1="538" x2="235.5" y2="538" stroke="#3c3c3c" stroke-width="1.0"/>
<line x1="229.4" y1="538" x2="229.4" y2="1153" stroke="#3c3c3c" stroke-width="1.0"/>
<polygon points="229.4,538.5 227.8,546.0 231.0,546.0" fill="#2a2a2a"/>
<polygon points="229.4,773 227.8,765.5 231.0,765.5" fill="#2a2a2a"/>
<polygon points="229.4,774 227.8,781.5 231.0,781.5" fill="#2a2a2a"/>
<polygon points="229.4,1152.5 227.8,1145.0 231.0,1145.0" fill="#2a2a2a"/>
<line x1="206" y1="633.2" x2="206" y2="773.5" stroke="#3c3c3c" stroke-width="1.0"/>
<polygon points="206,737.8 204.4,745.3 207.6,745.3" fill="#2a2a2a"/>
<polygon points="206,773 204.4,765.5 207.6,765.5" fill="#2a2a2a"/>
<line x1="103.9" y1="773.6" x2="132" y2="773.6" stroke="#3c3c3c" stroke-width="1.0"/>
<line x1="175.5" y1="773.6" x2="256.8" y2="773.6" stroke="#3c3c3c" stroke-width="1.0"/>
<line x1="178.7" y1="1153" x2="234.9" y2="1153" stroke="#3c3c3c" stroke-width="1.0"/>
<line x1="251" y1="773.6" x2="251" y2="1295.5" stroke="#3c3c3c" stroke-width="1.0"/>
<polygon points="251,774.2 249.4,781.7 252.6,781.7" fill="#2a2a2a"/>
<polygon points="251,1295 249.4,1287.5 252.6,1287.5" fill="#2a2a2a"/>
<line x1="85" y1="717.4" x2="85" y2="882.1" stroke="#3c3c3c" stroke-width="1.0"/>
<polygon points="85,718 83.4,725.5 86.6,725.5" fill="#2a2a2a"/>
<polygon points="85,881.5 83.4,874.0 86.6,874.0" fill="#2a2a2a"/>
<line x1="80.4" y1="717.4" x2="128" y2="717.4" stroke="#3c3c3c" stroke-width="1.1"/>
<line x1="80.1" y1="882.1" x2="122.7" y2="882.1" stroke="#3c3c3c" stroke-width="1.1"/>
<line x1="108.6" y1="758.2" x2="108.6" y2="871.7" stroke="#3c3c3c" stroke-width="1.0"/>
<polygon points="108.6,773.6 107.0,766.1 110.19999999999999,766.1" fill="#2a2a2a"/>
<polygon points="108.6,854.8 107.0,862.3 110.19999999999999,862.3" fill="#2a2a2a"/>
<line x1="103.9" y1="854.6" x2="131.3" y2="854.6" stroke="#3c3c3c" stroke-width="1.0"/>
<line x1="20.3" y1="902.6" x2="151.4" y2="902.6" stroke="#3c3c3c" stroke-width="1.1"/>
<polygon points="124,902.6 116.5,901.0 116.5,904.2" fill="#2a2a2a"/>
<polygon points="138,902.6 145.5,901.0 145.5,904.2" fill="#2a2a2a"/>
<line x1="124" y1="883.4" x2="124" y2="907.4" stroke="#3c3c3c" stroke-width="1.0"/>
<line x1="138" y1="877.8" x2="138" y2="937.4" stroke="#3c3c3c" stroke-width="1.0"/>
<line x1="66.3" y1="932.4" x2="164.1" y2="932.4" stroke="#3c3c3c" stroke-width="1.1"/>
<polygon points="138,932.4 145.5,930.8 145.5,934.0" fill="#2a2a2a"/>
<polygon points="162,932.4 154.5,930.8 154.5,934.0" fill="#2a2a2a"/>
<line x1="23.7" y1="961.2" x2="188.7" y2="961.2" stroke="#3c3c3c" stroke-width="1.1"/>
<polygon points="166.5,961.2 174.0,959.6 174.0,962.8000000000001" fill="#2a2a2a"/>
<polygon points="188.5,961.2 181.0,959.6 181.0,962.8000000000001" fill="#2a2a2a"/>
<line x1="188.5" y1="846.2" x2="188.5" y2="966.3" stroke="#3c3c3c" stroke-width="1.0"/>
<line x1="166.4" y1="846.2" x2="166.4" y2="966.3" stroke="#3c3c3c" stroke-width="1.0"/>
<line x1="111.3" y1="1295.5" x2="158.7" y2="1295.5" stroke="#3c3c3c" stroke-width="1.2"/>
<line x1="174.7" y1="1295.5" x2="278.7" y2="1295.5" stroke="#3c3c3c" stroke-width="1.2"/>
<line x1="116.3" y1="1109.5" x2="116.3" y2="1295.5" stroke="#3c3c3c" stroke-width="1.0"/>
<polygon points="116.3,1256.5 114.7,1264.0 117.89999999999999,1264.0" fill="#2a2a2a"/>
<polygon points="116.3,1295 114.7,1287.5 117.89999999999999,1287.5" fill="#2a2a2a"/>
<line x1="111" y1="1256" x2="159" y2="1256" stroke="#3c3c3c" stroke-width="1.2"/>
<text transform="translate(95.9,275.9) rotate(-90)" font-size="14.2" fill="#222" textLength="109.0" lengthAdjust="spacing">Maximum Cutoff</text>
<text transform="translate(111.8,273.8) rotate(-90)" font-size="14.2" fill="#222" textLength="103.7" lengthAdjust="spacing">(Top Extension)</text>
<text transform="translate(248.6,462.1) rotate(-90)" font-size="14.2" fill="#222" textLength="145.8" lengthAdjust="spacing">Top Extension Length</text>
<text transform="translate(272.4,720.6) rotate(-90)" font-size="14.2" fill="#222" textLength="96.6" lengthAdjust="spacing">Overall Length</text>
<text transform="translate(225.8,729.7) rotate(-90)" font-size="14.2" fill="#222" textLength="161.4" lengthAdjust="spacing">Top Swinghook Position</text>
<text transform="translate(202.5,726.4) rotate(-90)" font-size="14.2" fill="#222" textLength="88.2" lengthAdjust="spacing">41mm (1.61)</text>
<text transform="translate(82.7,842.9) rotate(-90)" font-size="14.2" fill="#222" textLength="92.2" lengthAdjust="spacing">186mm (7.32)</text>
<text transform="translate(104.9,861.8) rotate(-90)" font-size="14.2" fill="#222" textLength="83.9" lengthAdjust="spacing">92mm (3.62)</text>
<text transform="translate(226.5,1007.9) rotate(-90)" font-size="14.2" fill="#222" textLength="181.1" lengthAdjust="spacing">Bottom Swinghook Position</text>
<text transform="translate(247.6,1127.6) rotate(-90)" font-size="14.2" fill="#222" textLength="95.3" lengthAdjust="spacing">Handle Height</text>
<text transform="translate(97.0,1227.7) rotate(-90)" font-size="14.2" fill="#222" textLength="109.8" lengthAdjust="spacing">Maximum Cutoff</text>
<text transform="translate(113.7,1236.1) rotate(-90)" font-size="14.2" fill="#222" textLength="126.6" lengthAdjust="spacing">(Bottom Extension)</text>
<text x="29.1" y="899.5" font-size="14.2" fill="#222" textLength="84.6" lengthAdjust="spacing">18mm (0.72)</text>
<text x="75.0" y="929.1" font-size="14.2" fill="#222" textLength="52.7" lengthAdjust="spacing">Backset</text>
<text x="32.1" y="957.5" font-size="14.2" fill="#222" textLength="105.0" lengthAdjust="spacing">Deadbolt Throw</text></svg>
</body></html>
